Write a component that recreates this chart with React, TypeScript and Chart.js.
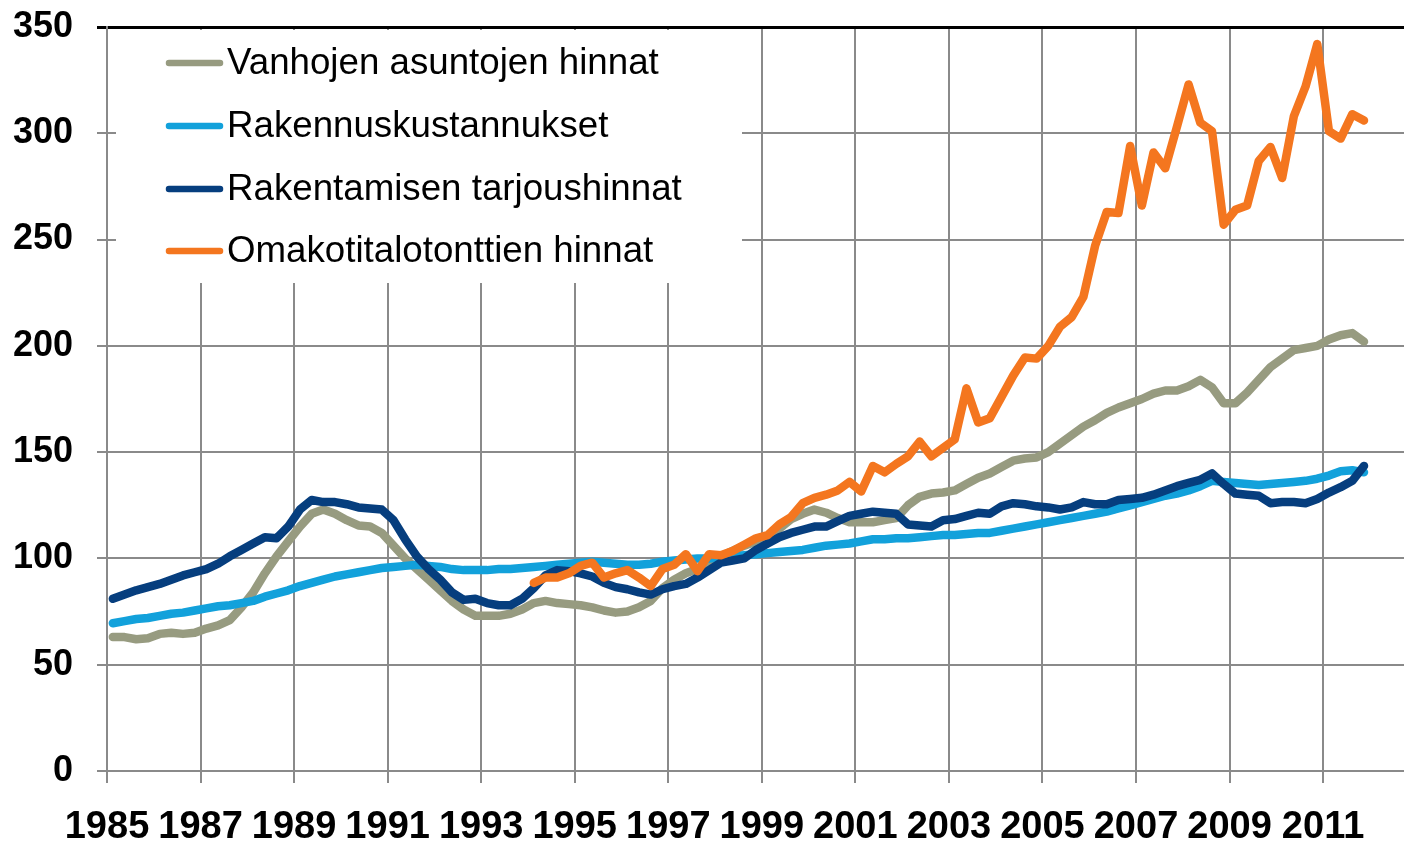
import React, { useEffect, useRef } from 'react';
import { Chart, registerables } from 'chart.js';

Chart.register(...registerables);

const START_YEAR = 1985;
const ORANGE_START_YEAR = 1994;
const X_MIN = 1985;
const X_MAX = 2012.73;
const X_TICKS = [1985, 1987, 1989, 1991, 1993, 1995, 1997, 1999, 2001, 2003, 2005, 2007, 2009, 2011];
const Y_MIN = 0;
const Y_MAX = 350;
const Y_STEP = 50;

const SERIES_LABELS = [
  'Vanhojen asuntojen hinnat',
  'Rakennuskustannukset',
  'Rakentamisen tarjoushinnat',
  'Omakotitalotonttien hinnat',
];

// Quarterly values 1985Q1..2011Q4
const VANHOJEN = [
  63, 63, 62, 62.5, 64.5, 65, 64.5, 65,
  67, 68.5, 71, 77, 84, 93, 101, 108,
  115, 121, 123, 121, 118, 115.5, 115, 112,
  106, 100, 95, 90, 85, 80, 76, 73,
  73, 73, 74, 76, 79, 80, 79, 78.5,
  78, 77, 75.5, 74.5, 75, 77, 80, 86,
  90, 93, 95, 98.5, 101, 103.5, 106, 108,
  110, 114, 118.5, 121, 123, 121.5, 119, 117,
  117, 117, 118, 119, 125, 129, 130.5, 131,
  132, 135, 138, 140, 143, 146, 147, 147.5,
  150, 154, 158, 162, 165, 168.5, 171, 173,
  175, 177.5, 179, 179, 181, 184, 180.5, 173,
  173, 178, 184, 190, 194, 198, 199, 200,
  203, 205, 206, 202,
];

const RAKENNUSKUST = [
  69.5, 70.5, 71.5, 72, 73, 74, 74.5, 75.5,
  76.5, 77.5, 78, 79, 80, 82, 83.5, 85,
  87, 88.5, 90, 91.5, 92.5, 93.5, 94.5, 95.5,
  96, 96.5, 97, 96.5, 96, 95, 94.5, 94.5,
  94.5, 95, 95, 95.5, 96, 96.5, 97, 97.5,
  98, 98.5, 98, 97.5, 97, 97, 97.5, 98.5,
  99, 99.5, 100, 100, 100.5, 101, 101.5, 102,
  102.5, 103, 103.5, 104, 105, 106, 106.5, 107,
  108, 109, 109, 109.5, 109.5, 110, 110.5, 111,
  111, 111.5, 112, 112, 113, 114, 115, 116,
  117, 118, 119, 120, 121, 122, 123.5, 125,
  126.5, 128, 129.5, 130.5, 132, 134, 136.5, 136,
  135.5, 135, 134.5, 135, 135.5, 136, 136.5, 137.5,
  139, 141, 141.5, 140.5,
];

const TARJOUSHINNAT = [
  81, 83, 85, 86.5, 88, 90, 92, 93.5,
  95, 97.5, 101, 104, 107, 110, 109.5, 115,
  123, 127.5, 126.5, 126.5, 125.5, 124, 123.5, 123,
  118, 109, 101, 95, 90, 84, 80.5, 81,
  79, 78, 78, 81, 86, 92, 94.5, 94,
  93, 91.5, 88.5, 86.5, 85.5, 84, 83, 85.5,
  87, 88, 91, 94.5, 98, 99, 100, 104,
  107, 110, 112, 113.5, 115, 115, 117.5, 120,
  121, 122, 121.5, 121, 116, 115.5, 115, 118,
  118.5, 120, 121.5, 121, 124.5, 126, 125.5, 124.5,
  124, 123, 124, 126.5, 125.5, 125.5, 127.5, 128,
  128.5, 130, 132, 134, 135.5, 137, 140, 135,
  130.5, 130, 129.5, 126, 126.5, 126.5, 126, 128,
  131, 133.5, 136.5, 143.5,
];

// Quarterly values 1994Q1..2011Q4
const TONTTIEN = [
  88.5, 91, 91, 93, 96.5, 98, 91, 93,
  94.5, 91, 87, 95, 97, 102, 94, 102,
  101.5, 103.5, 106.5, 109.5, 111, 116, 119.5, 126,
  128.5, 130, 132, 136, 131.5, 143.5, 140.5, 144.5,
  148, 155, 148, 152, 156, 180, 164, 166,
  176, 186, 194.5, 194, 200, 209, 213.5, 223,
  247, 263, 262.5, 294, 266, 291, 283.5, 303,
  323, 305, 301, 257, 264, 266, 287, 293.5,
  279, 308, 322, 342, 301, 297.5, 309, 306,
];

const COLORS = ['#979B80', '#12A1DB', '#063E7E', '#F4761F'];

const FONT_FAMILY = "'Liberation Sans', Arial, Helvetica, sans-serif";

function toPoints(values: number[], startYear: number) {
  return values.map((v, i) => ({ x: startYear + i / 4 + 0.125, y: v }));
}

const legendBoxPlugin = {
  id: 'legendBox',
  beforeDatasetsDraw(chart: any) {
    const ctx = chart.ctx;
    ctx.save();
    ctx.fillStyle = '#ffffff';
    ctx.fillRect(116, 30, 626, 253);
    ctx.restore();
  },
  afterDatasetsDraw(chart: any) {
    const ctx = chart.ctx;
    const rows = [63, 126, 189, 251];
    ctx.save();
    SERIES_LABELS.forEach((label, i) => {
      const y = rows[i];
      ctx.strokeStyle = COLORS[i];
      ctx.lineWidth = 6.5;
      ctx.lineCap = 'round';
      ctx.beginPath();
      ctx.moveTo(169, y);
      ctx.lineTo(220, y);
      ctx.stroke();
      ctx.fillStyle = '#000';
      ctx.font = `36.7px ${FONT_FAMILY}`;
      ctx.textBaseline = 'middle';
      ctx.textAlign = 'left';
      ctx.fillText(label, 227, y + 1);
    });
    ctx.restore();
  },
};

export default function App() {
  const canvasRef = useRef<HTMLCanvasElement | null>(null);

  useEffect(() => {
    if (!canvasRef.current) return;
    const datasets = [
      { label: SERIES_LABELS[0], data: toPoints(VANHOJEN, START_YEAR), borderColor: COLORS[0], order: 3 },
      { label: SERIES_LABELS[1], data: toPoints(RAKENNUSKUST, START_YEAR), borderColor: COLORS[1], order: 2 },
      { label: SERIES_LABELS[2], data: toPoints(TARJOUSHINNAT, START_YEAR), borderColor: COLORS[2], order: 1 },
      { label: SERIES_LABELS[3], data: toPoints(TONTTIEN, ORANGE_START_YEAR), borderColor: COLORS[3], order: 0 },
    ].map((d) => ({
      ...d,
      borderWidth: 8.5,
      pointRadius: 0,
      tension: 0,
      fill: false,
      borderJoinStyle: 'round' as const,
      borderCapStyle: 'round' as const,
    }));

    const chart = new Chart(canvasRef.current, {
      type: 'line',
      data: { datasets },
      options: {
        animation: false,
        responsive: false,
        devicePixelRatio: 1,
        layout: { padding: { top: 27, left: 0, right: 0, bottom: 0 } },
        plugins: {
          legend: { display: false },
          tooltip: { enabled: false },
        },
        scales: {
          x: {
            type: 'linear',
            min: X_MIN,
            max: X_MAX,
            afterBuildTicks: (scale: any) => {
              scale.ticks = X_TICKS.map((v) => ({ value: v }));
            },
            afterFit: (scale: any) => {
              scale.height = 71;
            },
            grid: {
              color: '#8a8a8a',
              lineWidth: 2,
              tickLength: 12,
              drawTicks: true,
            },
            border: { display: true, color: '#8a8a8a', width: 2 },
            ticks: {
              color: '#000',
              padding: 22,
              maxRotation: 0,
              autoSkip: false,
              font: { family: FONT_FAMILY, size: 38, weight: 'bold' },
              callback: (v: any) => String(v),
            },
          },
          y: {
            type: 'linear',
            min: Y_MIN,
            max: Y_MAX,
            afterFit: (scale: any) => {
              scale.width = 107;
              scale.paddingTop = 0;
              scale.paddingBottom = 0;
            },
            grid: {
              color: (ctx: any) => (ctx.tick && ctx.tick.value === Y_MAX ? '#000' : '#8a8a8a'),
              lineWidth: (ctx: any) => (ctx.tick && ctx.tick.value === Y_MAX ? 3 : 2),
              tickLength: 10,
              drawTicks: true,
            },
            border: { display: true, color: '#8a8a8a', width: 2 },
            ticks: {
              stepSize: Y_STEP,
              color: '#000',
              padding: 24,
              font: { family: FONT_FAMILY, size: 36, weight: 'bold' },
              callback: (v: any) => String(v),
            },
          },
        },
      },
      plugins: [legendBoxPlugin],
    });

    return () => chart.destroy();
  }, []);

  return (
    <div style={{ position: 'fixed', left: 0, top: 0, width: 1404, height: 842, background: '#fff' }}>
      <canvas ref={canvasRef} width={1404} height={842} style={{ display: 'block', width: 1404, height: 842 }} />
    </div>
  );
}
